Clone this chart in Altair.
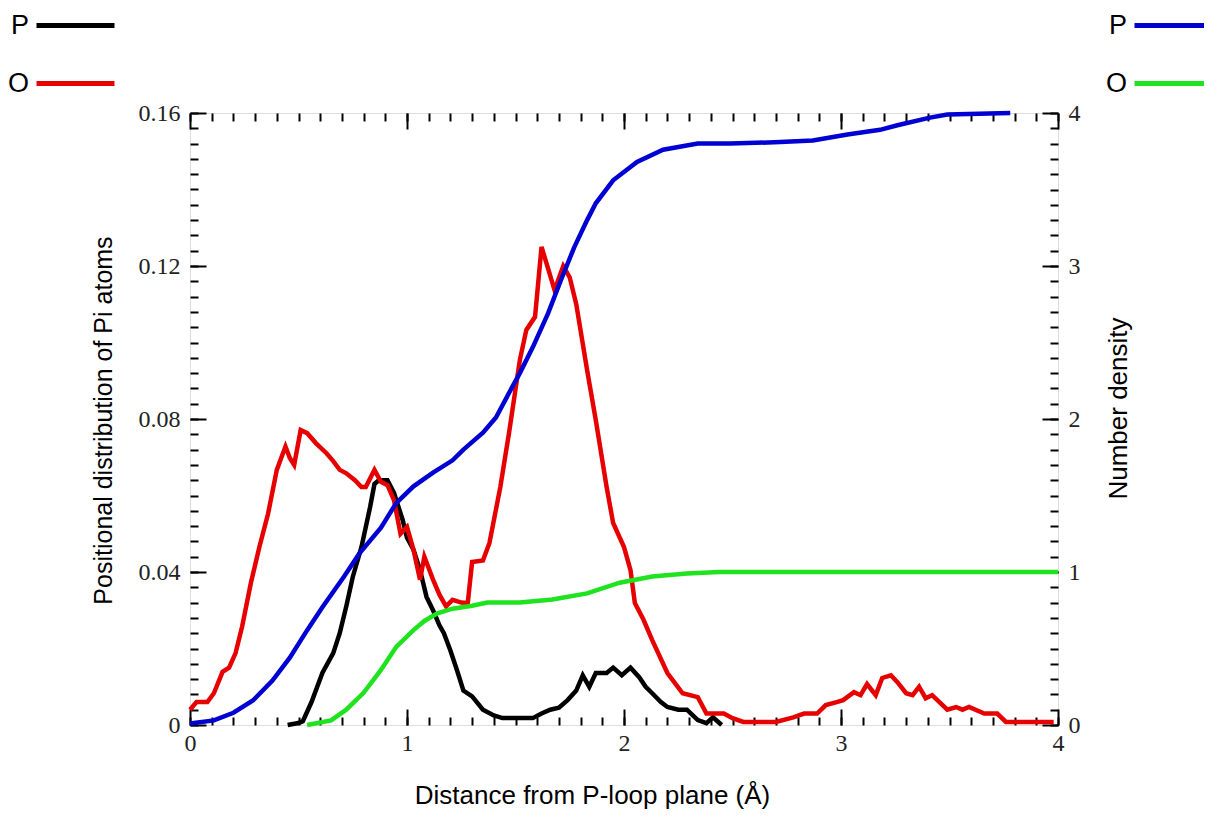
import altair as alt
import pandas as pd

# ---------------- data ----------------
# Positional distribution of Pi atoms (left axis)
p_dist_x = [0.45, 0.50, 0.52, 0.56, 0.61, 0.66, 0.69, 0.72, 0.75, 0.79, 0.83, 0.85, 0.87, 0.91,
            0.94, 0.98, 1.00, 1.03, 1.06, 1.09, 1.12, 1.15, 1.17, 1.20, 1.23, 1.26, 1.30, 1.35,
            1.40, 1.44, 1.58, 1.62, 1.66, 1.70, 1.74, 1.78, 1.81, 1.84, 1.87, 1.92, 1.95, 1.99,
            2.03, 2.07, 2.10, 2.13, 2.17, 2.20, 2.25, 2.29, 2.34, 2.38, 2.41, 2.45]
p_dist_y = [0.0, 0.0005, 0.001, 0.006, 0.0136, 0.0188, 0.024, 0.031, 0.0387, 0.0465, 0.057, 0.063,
            0.064, 0.064, 0.0607, 0.0536, 0.049, 0.0458, 0.0405, 0.0335, 0.030, 0.026, 0.024,
            0.0195, 0.0144, 0.009, 0.0075, 0.004, 0.0025, 0.0018, 0.0018, 0.003, 0.004, 0.0045,
            0.0065, 0.009, 0.013, 0.010, 0.0136, 0.0136, 0.015, 0.013, 0.015, 0.0125, 0.010,
            0.0083, 0.006, 0.0047, 0.004, 0.004, 0.0013, 0.0005, 0.002, 0.0]

o_dist_x = [0.00, 0.03, 0.08, 0.11, 0.15, 0.18, 0.21, 0.24, 0.28, 0.32, 0.36, 0.40, 0.44, 0.46,
            0.48, 0.51, 0.54, 0.58, 0.63, 0.66, 0.69, 0.72, 0.76, 0.79, 0.81, 0.85, 0.88, 0.91,
            0.94, 0.97, 1.00, 1.03, 1.06, 1.08, 1.12, 1.15, 1.18, 1.21, 1.25, 1.28, 1.30, 1.35,
            1.38, 1.43, 1.47, 1.52, 1.55, 1.59, 1.62, 1.68, 1.72, 1.75, 1.78, 1.83, 1.87, 1.92,
            1.95, 2.00, 2.03, 2.05, 2.09, 2.13, 2.20, 2.27, 2.34, 2.38, 2.46, 2.50, 2.55, 2.70,
            2.78, 2.83, 2.89, 2.93, 2.98, 3.01, 3.06, 3.09, 3.12, 3.16, 3.19, 3.23, 3.26, 3.30,
            3.33, 3.36, 3.39, 3.42, 3.49, 3.53, 3.56, 3.59, 3.66, 3.72, 3.76, 3.98]
o_dist_y = [0.004, 0.006, 0.006, 0.0083, 0.0139, 0.015, 0.0188, 0.0257, 0.037, 0.0466, 0.0553,
            0.0667, 0.0728, 0.0698, 0.068, 0.0771, 0.0763, 0.0737, 0.071, 0.069, 0.0667, 0.0658,
            0.064, 0.0622, 0.0622, 0.0667, 0.0636, 0.0627, 0.0588, 0.050, 0.0518, 0.0458, 0.038,
            0.044, 0.038, 0.034, 0.031, 0.0327, 0.032, 0.0319, 0.0426, 0.043, 0.0476, 0.0622,
            0.0763, 0.0954, 0.1033, 0.1067, 0.125, 0.1137, 0.120, 0.117, 0.110, 0.0928, 0.0797,
            0.0622, 0.0528, 0.0465, 0.0405, 0.0319, 0.0275, 0.0222, 0.0136, 0.0083, 0.0073,
            0.003, 0.003, 0.0018, 0.0008, 0.0008, 0.002, 0.003, 0.003, 0.0052, 0.006, 0.0065,
            0.0086, 0.0078, 0.0107, 0.0078, 0.0123, 0.013, 0.0112, 0.0083, 0.0078, 0.010, 0.007,
            0.0078, 0.004, 0.0047, 0.004, 0.0047, 0.003, 0.003, 0.0008, 0.0008]

# Number density (right axis)
p_num_x = [0.00, 0.11, 0.20, 0.29, 0.38, 0.46, 0.54, 0.61, 0.71, 0.78, 0.88, 0.95, 1.03, 1.12,
           1.21, 1.26, 1.35, 1.41, 1.47, 1.52, 1.58, 1.65, 1.71, 1.77, 1.83, 1.87, 1.95, 2.06,
           2.18, 2.34, 2.49, 2.72, 2.87, 3.03, 3.18, 3.26, 3.41, 3.49, 3.78]
p_num_y = [0.01, 0.03, 0.08, 0.16, 0.29, 0.44, 0.62, 0.77, 0.97, 1.12, 1.29, 1.45, 1.56, 1.65,
           1.73, 1.80, 1.91, 2.01, 2.17, 2.30, 2.47, 2.69, 2.91, 3.12, 3.30, 3.41, 3.56, 3.68,
           3.76, 3.80, 3.80, 3.81, 3.82, 3.86, 3.89, 3.92, 3.97, 3.99, 4.0]

o_num_x = [0.54, 0.65, 0.72, 0.80, 0.88, 0.95, 1.03, 1.08, 1.14, 1.21, 1.30, 1.37, 1.52, 1.67,
           1.83, 1.98, 2.13, 2.29, 2.44, 4.00]
o_num_y = [0.0, 0.03, 0.10, 0.21, 0.36, 0.51, 0.62, 0.68, 0.73, 0.76, 0.78, 0.80, 0.80, 0.82,
           0.86, 0.93, 0.97, 0.99, 1.0, 1.0]

left_series = ["P", "O"]          # positional distribution
right_series = ["P#", "O#"]       # number density (label shows the first letter only)
left_colors = ["#000000", "#e60000"]
right_colors = ["#0000d2", "#1ee31e"]

x_ticks = [0, 1, 2, 3, 4]
left_ticks = [0, 0.04, 0.08, 0.12, 0.16]
right_ticks = [0, 1, 2, 3, 4]

# ---------------- tables ----------------
left_df = pd.concat([
    pd.DataFrame({"x": p_dist_x, "v": p_dist_y, "series": left_series[0], "order": range(len(p_dist_x))}),
    pd.DataFrame({"x": o_dist_x, "v": o_dist_y, "series": left_series[1], "order": range(len(o_dist_x))}),
])
right_df = pd.concat([
    pd.DataFrame({"x": p_num_x, "n": p_num_y, "series": right_series[0], "order": range(len(p_num_x))}),
    pd.DataFrame({"x": o_num_x, "n": o_num_y, "series": right_series[1], "order": range(len(o_num_x))}),
])

x_minor = [i / 10 for i in range(41)]
left_minor = [round(i * 0.004, 4) for i in range(41)]
right_minor = [i / 10 for i in range(41)]

xscale = alt.Scale(domain=[0, 4], nice=False, zero=False)
lscale = alt.Scale(domain=[0, 0.16], nice=False)
rscale = alt.Scale(domain=[0, 4], nice=False)

LABEL_FONT = "Liberation Serif"
TITLE_FONT = "Liberation Sans"
LW = 4.5


def tick_axis(orient, values, size):
    return alt.Axis(orient=orient, values=values, labels=False, domain=False, grid=False,
                    title=None, ticks=True, tickSize=size, offset={"expr": str(-size)},
                    tickWidth=2, tickColor="black")


legend_common = dict(orient="none", title=None, symbolType="M0,0H5.2", symbolSize=900,
                     symbolStrokeWidth=5, labelFontSize=27, labelFont=TITLE_FONT,
                     labelColor="black", labelAlign="right", labelOffset={"expr": "-25"},
                     labelExpr="substring(datum.label, 0, 1)",
                     rowPadding=27, padding=0)

# ---------------- left group ----------------
left_lines = alt.Chart(left_df).mark_line(strokeWidth=LW).encode(
    x=alt.X("x:Q", scale=xscale,
            axis=alt.Axis(orient="bottom", values=x_ticks, format="d", ticks=False, domain=False,
                          grid=False, labelFont=LABEL_FONT, labelFontSize=24, labelColor="#222",
                          labelPadding=6, labelFlush=False, labelOverlap=False,
                          title="Distance from P-loop plane (Å)", titleFont=TITLE_FONT,
                          titleFontSize=26, titleFontWeight="normal", titleX=402, titleY=78,
                          titleBaseline="alphabetic", titleAlign="center")),
    y=alt.Y("v:Q", scale=lscale,
            axis=alt.Axis(orient="left", values=left_ticks, ticks=False, domain=False, grid=False,
                          labelExpr="datum.value == 0 ? '0' : format(datum.value, '.2f')",
                          labelFont=LABEL_FONT, labelFontSize=24, labelColor="#222",
                          labelPadding=10, labelFlush=False, labelOverlap=False,
                          title="Positional distribution of Pi atoms", titleFont=TITLE_FONT,
                          titleFontSize=25, titleFontWeight="normal", titleAngle=270,
                          titleX=-87, titleY=307, titleBaseline="middle", titleAlign="center")),
    color=alt.Color("series:N", scale=alt.Scale(domain=left_series, range=left_colors),
                    legend=alt.Legend(legendX=-171, legendY=-105, **legend_common)),
    order="order:Q",
)


def ghost(df, yfield, yscale, xaxis, yaxis):
    return alt.Chart(df).mark_line(strokeOpacity=0).encode(
        x=alt.X("x:Q", scale=xscale, axis=xaxis),
        y=alt.Y(yfield, scale=yscale, axis=yaxis),
    )


left_group = alt.layer(
    left_lines,
    ghost(left_df, "v:Q", lscale, tick_axis("bottom", x_ticks, 16), tick_axis("left", left_ticks, 16)),
    ghost(left_df, "v:Q", lscale, tick_axis("bottom", x_minor, 8), tick_axis("left", left_minor, 8)),
    ghost(left_df, "v:Q", lscale, tick_axis("top", x_ticks, 16), None),
    ghost(left_df, "v:Q", lscale, tick_axis("top", x_minor, 8), None),
).resolve_axis(x="independent", y="independent")

# ---------------- right group ----------------
right_lines = alt.Chart(right_df).mark_line(strokeWidth=LW).encode(
    x=alt.X("x:Q", scale=xscale, axis=None),
    y=alt.Y("n:Q", scale=rscale,
            axis=alt.Axis(orient="right", values=right_ticks, format="d", ticks=False,
                          domain=False, grid=False, labelFont=LABEL_FONT, labelFontSize=24,
                          labelColor="#222", labelPadding=10, labelFlush=False,
                          labelOverlap=False, title="Number density", titleFont=TITLE_FONT,
                          titleFontSize=26, titleFontWeight="normal", titleAngle=270,
                          titleX=60, titleY=295, titleBaseline="middle", titleAlign="center")),
    stroke=alt.Stroke("series:N", scale=alt.Scale(domain=right_series, range=right_colors),
                      legend=alt.Legend(legendX=927, legendY=-105, **legend_common)),
    order="order:Q",
)

right_group = alt.layer(
    right_lines,
    ghost(right_df, "n:Q", rscale, None, tick_axis("right", right_ticks, 16)),
    ghost(right_df, "n:Q", rscale, None, tick_axis("right", right_minor, 8)),
).resolve_axis(x="independent", y="independent")

chart = alt.layer(left_group, right_group).resolve_scale(
    y="independent"
).resolve_axis(
    x="independent", y="independent"
).properties(
    width=868, height=612,
    autosize=alt.AutoSizeParams(type="none"),
    padding={"left": 182, "top": 105, "right": 146, "bottom": 90},
).configure_view(
    stroke="black", strokeWidth=3
).configure(background="white")

chart.save("out.html", embed_options={"renderer": "svg", "actions": False})
